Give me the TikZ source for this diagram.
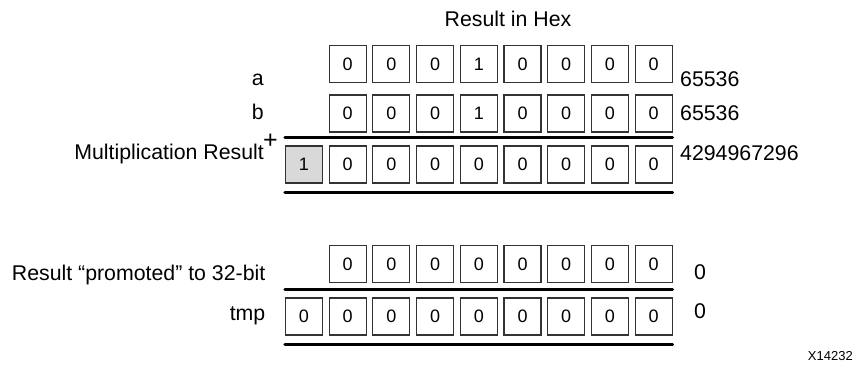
\documentclass[tikz,border=0pt]{standalone}
\usepackage{fontspec}
\setmainfont{Liberation Sans}
\usetikzlibrary{positioning, calc}
\definecolor{hexgray}{HTML}{D9D9D9}
\definecolor{hexline}{HTML}{333333}

\begin{document}
\begin{tikzpicture}[x=1pt, y=-1pt,
    hexbox/.style={draw=hexline, line width=1.1pt, minimum size=37pt,
                   inner sep=0pt, font=\fontsize{18}{18}\selectfont},
    lbl/.style={font=\fontsize{21.3}{21.3}\selectfont, inner sep=0pt},
    rule/.style={line width=3pt, line cap=round}]
  \useasboundingbox (0,0) rectangle (856,364);
  % title
  \node[lbl, anchor=base] (title) at (508,27) {Result in Hex};
  % operands a and b
  \foreach \v [count=\i] in {0,0,0,1,0,0,0,0} {
    \node[hexbox] (a\i) at (304+\i*43.7,64) {\v};
    \node[hexbox] (b\i) at (304+\i*43.7,113.5) {\v};
  }
  % multiplication result, carry digit in grey
  \node[hexbox, fill=hexgray] (m0) at (304,164.5) {1};
  \foreach \i in {1,...,8}
    \node[hexbox] (m\i) at (304+\i*43.7,164.5) {0};
  \draw[rule] ([yshift=7.5pt]m0.north west) -- ([yshift=7.5pt]m8.north east);
  \draw[rule] ([yshift=-9pt]m0.south west) -- ([yshift=-9pt]m8.south east);
  % promoted result and tmp
  \foreach \i in {1,...,8}
    \node[hexbox] (p\i) at (304+\i*43.7,264) {0};
  \foreach \i in {0,...,8}
    \node[hexbox] (t\i) at (304+\i*43.7,316.5) {0};
  \draw[rule] ([yshift=7.5pt]t0.north west) -- ([yshift=7.5pt]t8.north east);
  \draw[rule] ([yshift=-9pt]t0.south west) -- ([yshift=-9pt]t8.south east);
  % labels on the left
  \node[lbl, anchor=base east] (la) at (264,85) {a};
  \node[lbl, anchor=base east] (lb) at (264,119) {b};
  \node[lbl, anchor=base east] (lm) at (264,159) {Multiplication Result};
  \node[lbl, font=\fontsize{25}{25}\selectfont] (plus) at (270.5,141) {+};
  \node[lbl, anchor=base east] (lp) at (265.5,280) {Result “promoted” to 32-bit};
  \node[lbl, anchor=base east] (lt) at (265.5,320) {tmp};
  % decimal values on the right
  \node[lbl, anchor=base west] (va) at (680,86) {65536};
  \node[lbl, anchor=base west] (vb) at (680,120) {65536};
  \node[lbl, anchor=base west] (vm) at (680,160) {4294967296};
  \node[lbl, anchor=base west] (vp) at (694,279) {0};
  \node[lbl, anchor=base west] (vt) at (694,318) {0};
  % figure id
  \node[font=\fontsize{13}{13}\selectfont, inner sep=0pt, anchor=base east]
    (fig) at (853,360) {X14232};
\end{tikzpicture}
\end{document}
